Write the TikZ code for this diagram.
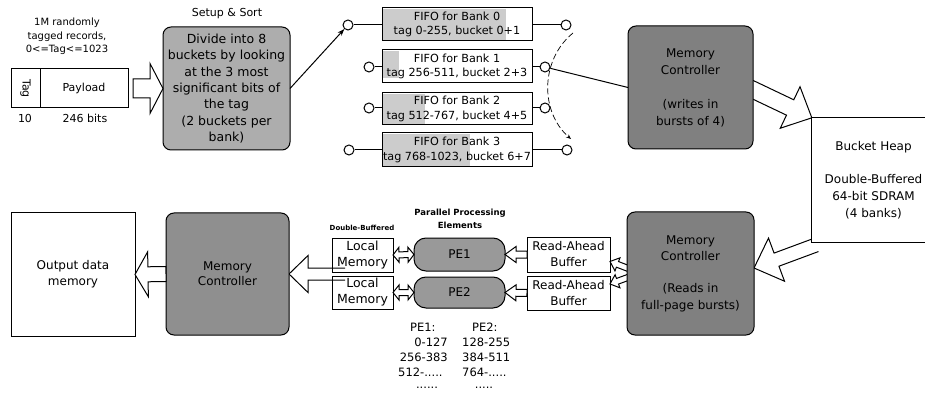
\documentclass[tikz,border=0pt]{standalone}
\usepackage{fontspec}
\setmainfont{DejaVu Sans}
\usetikzlibrary{calc,arrows.meta}
\pgfdeclarelayer{bg}
\pgfsetlayers{bg,main}
\definecolor{gsetup}{gray}{0.68}
\definecolor{gmc}{gray}{0.5}
\definecolor{gmcll}{gray}{0.56}
\definecolor{gpe}{gray}{0.6}
\newcommand{\myfs}[2]{\fontsize{#1}{#2}\selectfont}
% hollow block arrow: #1 style, #2 start, #3 tip, #4 shaft half width, #5 head half width, #6 head length, #7 closing
\newcommand{\blkarrow}[7]{%
  \coordinate (ba-h) at ($(#3)!#6!(#2)$);
  \filldraw[#1] ($(#2)!#4!90:(#3)$) -- ($(ba-h)!#4!90:(#3)$) -- ($(ba-h)!#5!90:(#3)$) -- (#3)
    -- ($(ba-h)!#5!-90:(#3)$) -- ($(ba-h)!#4!-90:(#3)$) -- ($(#2)!#4!-90:(#3)$) #7;}
% hollow double arrow: #1 A, #2 B, #3 shaft hw, #4 head hw, #5 head len
\newcommand{\dblarrow}[5]{%
  \coordinate (da-1) at ($(#1)!#5!(#2)$);
  \coordinate (da-2) at ($(#2)!#5!(#1)$);
  \filldraw[blk] (#1) -- ($(da-1)!#4!90:(#2)$) -- ($(da-1)!#3!90:(#2)$) -- ($(da-2)!#3!90:(#2)$)
    -- ($(da-2)!#4!90:(#2)$) -- (#2) -- ($(da-2)!#4!-90:(#2)$) -- ($(da-2)!#3!-90:(#2)$)
    -- ($(da-1)!#3!-90:(#2)$) -- ($(da-1)!#4!-90:(#2)$) -- cycle;}
\begin{document}
\begin{tikzpicture}[x=1pt,y=-1pt,
  box/.style={draw, line width=1pt, inner sep=0pt, outer sep=0pt, align=center},
  gbox/.style={box, rounded corners=8pt},
  conn/.style={line width=1pt},
  blk/.style={draw=black, fill=white, line width=1pt, line join=miter},
  port/.style={circle, draw, line width=1pt, fill=white, minimum size=10pt, inner sep=0pt},
  lbl/.style={inner sep=0pt, align=center}]
\useasboundingbox (0,0) rectangle (925,395);

% ---------- input record ----------
\node[lbl, font=\myfs{10}{13.5}] (intro) at (67,36.5) {1M randomly\\tagged records,\\0<=Tag<=1023};
\node[box, minimum width=117pt, minimum height=39pt] (rec) at (69.5,88.5) {};
\draw[conn] ($(rec.north west)+(29,0)$) -- ($(rec.south west)+(29,0)$);
\node[lbl, rotate=-90, font=\myfs{11}{13}] (tag) at (25.5,88.5) {Tag};
\node[lbl, font=\myfs{11}{13}] (payload) at (84,88.5) {Payload};
\node[lbl, font=\myfs{11}{13}] (tagbits) at (25,118) {10};
\node[lbl, font=\myfs{11}{13}] (paybits) at (85,118) {246 bits};

% ---------- setup ----------
\node[lbl, font=\myfs{11}{13}] (setuptitle) at (227,14) {Setup \& Sort};
\node[gbox, fill=gsetup, minimum width=127pt, minimum height=123pt, font=\myfs{12.5}{16.3}] (setup) at (226.5,88.5)
  {Divide into 8\\buckets by looking\\at the 3 most\\significant bits of\\the tag\\(2 buckets per\\bank)};
\coordinate (recout) at ($(rec.east)+(5,0)$);
\blkarrow{blk}{recout}{setup.west}{9.5pt}{25pt}{13pt}{-- cycle}

% ---------- FIFOs ----------
\begin{pgfonlayer}{bg}
  \fill[gray!40] (383,9) rectangle (506,40);
  \fill[gray!40] (383,51) rectangle (399,78);
  \fill[gray!40] (383,94) rectangle (425,124);
  \fill[gray!40] (383,134) rectangle (470,166);
\end{pgfonlayer}
\node[box, minimum width=150pt, minimum height=33pt, font=\myfs{11.2}{14.5}] (fifo0) at (457,24.5) {FIFO for Bank 0\\tag 0-255, bucket 0+1};
\node[box, minimum width=150pt, minimum height=33pt, font=\myfs{11.2}{14.5}] (fifo1) at (457,66.5) {FIFO for Bank 1\\tag 256-511, bucket 2+3};
\node[box, minimum width=150pt, minimum height=32pt, font=\myfs{11.2}{14.5}] (fifo2) at (457,109) {FIFO for Bank 2\\tag 512-767, bucket 4+5};
\node[box, minimum width=150pt, minimum height=34pt, font=\myfs{11.2}{14.5}] (fifo3) at (457,150) {FIFO for Bank 3\\tag 768-1023, bucket 6+7};
\node[port] (c0l) at (348,25) {};
\node[port] (c0r) at (566,25) {};
\node[port] (c1l) at (369,67) {};
\node[port] (c1r) at (545,67) {};
\node[port] (c2l) at (369,108) {};
\node[port] (c2r) at (545,108) {};
\node[port] (c3l) at (349,150) {};
\node[port] (c3r) at (567,150) {};
\draw[conn] (c0l) -- (c0l -| fifo0.west);
\draw[conn] (c0r) -- (c0r -| fifo0.east);
\draw[conn] (c1l) -- (c1l -| fifo1.west);
\draw[conn] (c1r) -- (c1r -| fifo1.east);
\draw[conn] (c2l) -- (c2l -| fifo2.west);
\draw[conn] (c2r) -- (c2r -| fifo2.east);
\draw[conn] (c3l) -- (c3l -| fifo3.west);
\draw[conn] (c3r) -- (c3r -| fifo3.east);
\draw[conn, -{Stealth[length=7pt,width=5pt]}] (setup.east) -- (c0l);
\coordinate (arcS) at (573,33);
\coordinate (arcE) at (571,139);
\draw[line width=0.7pt, dash pattern=on 6pt off 3pt, -{Stealth[length=5pt,width=4pt]}] (arcS) .. controls (540,60) and (540,112) .. (arcE);

% ---------- upper memory controller & heap ----------
\node[gbox, fill=gmc, minimum width=125pt, minimum height=123pt, font=\myfs{12}{17}] (mcU) at (690.5,87.5)
  {Memory\\Controller\\[17pt](writes in\\bursts of 4)};
\draw[conn] (c1r) -- (mcU.west);
\node[lbl, fill=white, minimum width=123pt, minimum height=124pt, font=\myfs{12}{16.8}] (heap) at (873.5,180)
  {Bucket Heap\\[16.8pt]Double-Buffered\\64-bit SDRAM\\(4 banks)};
\draw[conn] (heap.north east) -- (heap.north west) -- (heap.south west) -- (heap.south east);
\coordinate (upA) at (745,86);
\begin{pgfonlayer}{bg}
  \blkarrow{blk}{upA}{heap.north west}{8.5pt}{23pt}{24pt}{}
\end{pgfonlayer}

% ---------- lower memory controller ----------
\node[gbox, fill=gmc, minimum width=127pt, minimum height=123pt, font=\myfs{12}{16.3}] (mcL) at (690.5,273.5)
  {Memory\\Controller\\[16.3pt](Reads in\\full-page bursts)};
\coordinate (lowA) at (816,245);
\coordinate (lowB) at ($(mcL.east)+(0,-5.5)$);
\begin{pgfonlayer}{bg}
  \blkarrow{blk}{lowA}{lowB}{7pt}{23pt}{24pt}{}
\end{pgfonlayer}

% ---------- processing elements ----------
\node[lbl, font=\bfseries\myfs{7}{9}] (dbl) at (362,228) {Double-Buffered};
\node[lbl, font=\bfseries\myfs{8.5}{13}] (ppe) at (460,218.5) {Parallel Processing\\Elements};
\node[box, minimum width=61pt, minimum height=34pt, font=\myfs{12.5}{16}] (lm1) at (362.5,255) {Local\\Memory};
\node[box, minimum width=61pt, minimum height=33pt, font=\myfs{12.5}{16}] (lm2) at (362.5,292.5) {Local\\Memory};
\node[box, rounded corners=12pt, fill=gpe, minimum width=91pt, minimum height=33pt, font=\myfs{12}{14}] (pe1) at (459.5,254.5) {PE1};
\node[box, rounded corners=12pt, fill=gpe, minimum width=91pt, minimum height=31pt, font=\myfs{12}{14}] (pe2) at (459.5,292.5) {PE2};
\node[box, minimum width=83pt, minimum height=35pt, font=\myfs{12}{16}] (ra1) at (568.5,254.5) {Read-Ahead\\Buffer};
\node[box, minimum width=83pt, minimum height=34pt, font=\myfs{12}{16}] (ra2) at (568.5,293) {Read-Ahead\\Buffer};
\dblarrow{lm1.east}{pe1.west}{3pt}{7.5pt}{6pt}
\dblarrow{lm2.east}{pe2.west}{3pt}{7.5pt}{6pt}
\blkarrow{blk}{ra1.west}{pe1.east}{3.5pt}{8pt}{11pt}{-- cycle}
\blkarrow{blk}{ra2.west}{pe2.east}{3.5pt}{8pt}{11pt}{-- cycle}
\coordinate (forkA) at (640,273);
\coordinate (fork1) at ($(ra1.east)+(0,7)$);
\coordinate (fork2) at ($(ra2.east)+(0,-9)$);
\begin{pgfonlayer}{bg}
  \blkarrow{blk}{forkA}{fork1}{3pt}{7pt}{8pt}{}
  \blkarrow{blk}{forkA}{fork2}{3pt}{7pt}{8pt}{}
\end{pgfonlayer}

% ---------- output side ----------
\node[gbox, fill=gmcll, minimum width=123pt, minimum height=122pt, font=\myfs{12}{15}] (mcLL) at (227.5,274) {Memory\\Controller};
\coordinate (lmout) at (345,274);
\begin{pgfonlayer}{bg}
  \blkarrow{blk}{lmout}{mcLL.east}{6pt}{18.5pt}{19pt}{}
\end{pgfonlayer}
\node[box, minimum width=124pt, minimum height=123pt, font=\myfs{12}{16}] (out) at (73,274.5) {Output data\\memory};
\blkarrow{blk}{mcLL.west}{out.east}{7.5pt}{22.5pt}{13pt}{-- cycle}

% ---------- PE ranges ----------
\begin{scope}[every node/.style={lbl, font=\myfs{11.5}{14}}]
  \node[anchor=west] (pe1h) at (410,327) {PE1:};
  \node[anchor=west] (pe2h) at (472,327) {PE2:};
  \node[anchor=east] (r11) at (448,342) {0-127};
  \node[anchor=east] (r12) at (448,357) {256-383};
  \node[anchor=west] (r13) at (398,372) {512-.....};
  \node (r14) at (427,388) {......};
  \node[anchor=west] (r21) at (462,342) {128-255};
  \node[anchor=west] (r22) at (462,357) {384-511};
  \node[anchor=west] (r23) at (462,372) {764-.....};
  \node (r24) at (484,388) {.....};
\end{scope}
\end{tikzpicture}
\end{document}
